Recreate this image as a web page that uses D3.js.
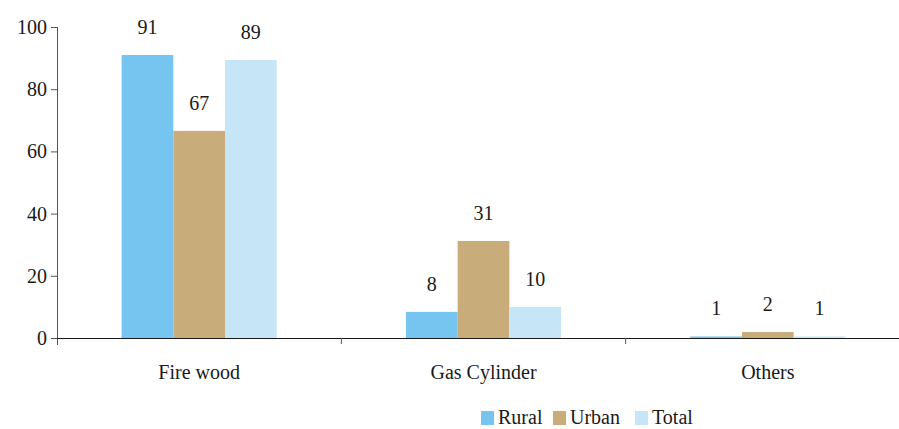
<!DOCTYPE html>
<html>
<head>
<meta charset="utf-8">
<script src="https://cdn.jsdelivr.net/npm/d3@7"></script>
<style>
	body { margin: 0; background: #fff; }
</style>
</head>
<body>
<svg id="graph"></svg>
<script>
var categories = ["Fire wood", "Gas Cylinder", "Others"];
var series = ["Rural", "Urban", "Total"];
var rural = [91.0, 8.4, 0.5];
var urban = [66.6, 31.2, 1.9];
var total = [89.4, 10.0, 0.5];
var labels = [[91, 67, 89], [8, 31, 10], [1, 2, 1]];
var yTicks = [0, 20, 40, 60, 80, 100];
var colors = ["#75c5f0", "#c8ac7a", "#c6e5f7"];

document.addEventListener("DOMContentLoaded", function() {
	var W = 899, H = 429,
		left = 57, right = 910, top = 27, bottom = 338,
		font = "'Liberation Serif', 'DejaVu Serif', serif",
		graph = d3.select("#graph").attr("width", W).attr("height", H);

	var data = categories.map(function(c, i) {
		return { cat: c, vals: [rural[i], urban[i], total[i]], labs: labels[i] };
	});

	//scales
	var x0 = d3.scaleBand().domain(categories).range([left, right]).padding(0),
		x1 = d3.scaleBand().domain(series).range([0, x0.bandwidth()]).paddingInner(0).paddingOuter(1.25),
		y = d3.scaleLinear().domain([0, 100]).range([bottom, top]),
		color = d3.scaleOrdinal().domain(series).range(colors);

	//bars
	var groups = graph.selectAll("g.cat")
		.data(data)
		.enter().append("g")
			.attr("class", "cat")
			.attr("transform", function(d) { return "translate(" + x0(d.cat) + ",0)"; });

	var rows = function(d) { return series.map(function(s, j) { return { s: s, v: d.vals[j], l: d.labs[j] }; }); };

	groups.selectAll("rect")
		.data(rows)
		.enter().append("rect")
			.attr("x", function(d) { return x1(d.s); })
			.attr("width", x1.bandwidth())
			.attr("y", function(d) { return y(d.v); })
			.attr("height", function(d) { return y(0) - y(d.v); })
			.attr("fill", function(d) { return color(d.s); });

	groups.selectAll("text.val")
		.data(rows)
		.enter().append("text")
			.attr("class", "val")
			.attr("x", function(d) { return x1(d.s) + x1.bandwidth() / 2; })
			.attr("y", function(d) { return y(d.v) - 21; })
			.attr("text-anchor", "middle")
			.text(function(d) { return d.l; });

	//y axis
	var yAxis = graph.append("g")
		.attr("transform", "translate(" + left + ",0)")
		.call(d3.axisLeft(y).tickValues(yTicks).tickSize(6).tickPadding(4));
	yAxis.select(".domain").attr("stroke", "#555").attr("d", "M0.5," + top + "V" + (bottom + 7));
	yAxis.selectAll(".tick line").attr("stroke", "#555");

	//x axis
	var xAxis = graph.append("g");
	xAxis.append("line")
		.attr("x1", left).attr("x2", right)
		.attr("y1", bottom + 0.5).attr("y2", bottom + 0.5)
		.attr("stroke", "#1a1a1a");
	xAxis.selectAll("line.tk")
		.data(categories.slice(1))
		.enter().append("line")
			.attr("class", "tk")
			.attr("x1", function(d) { return x0(d); })
			.attr("x2", function(d) { return x0(d); })
			.attr("y1", bottom).attr("y2", bottom + 6)
			.attr("stroke", "#555");
	xAxis.selectAll("text")
		.data(categories)
		.enter().append("text")
			.attr("x", function(d) { return x0(d) + x0.bandwidth() / 2; })
			.attr("y", bottom + 41)
			.attr("text-anchor", "middle")
			.text(function(d) { return d; });

	//legend
	var legendX = [481, 553, 635];
	var legend = graph.selectAll("g.legend")
		.data(series)
		.enter().append("g")
			.attr("class", "legend")
			.attr("transform", function(d, i) { return "translate(" + legendX[i] + ",411)"; });
	legend.append("rect")
		.attr("width", 13).attr("height", 14)
		.attr("fill", function(d) { return color(d); });
	legend.append("text")
		.attr("x", 17).attr("y", 13)
		.text(function(d) { return d; });

	graph.selectAll("text")
		.attr("font-family", font)
		.style("font-family", font)
		.style("font-size", "20px")
		.attr("fill", "#1a1a1a");
});
</script>
</body>
</html>
